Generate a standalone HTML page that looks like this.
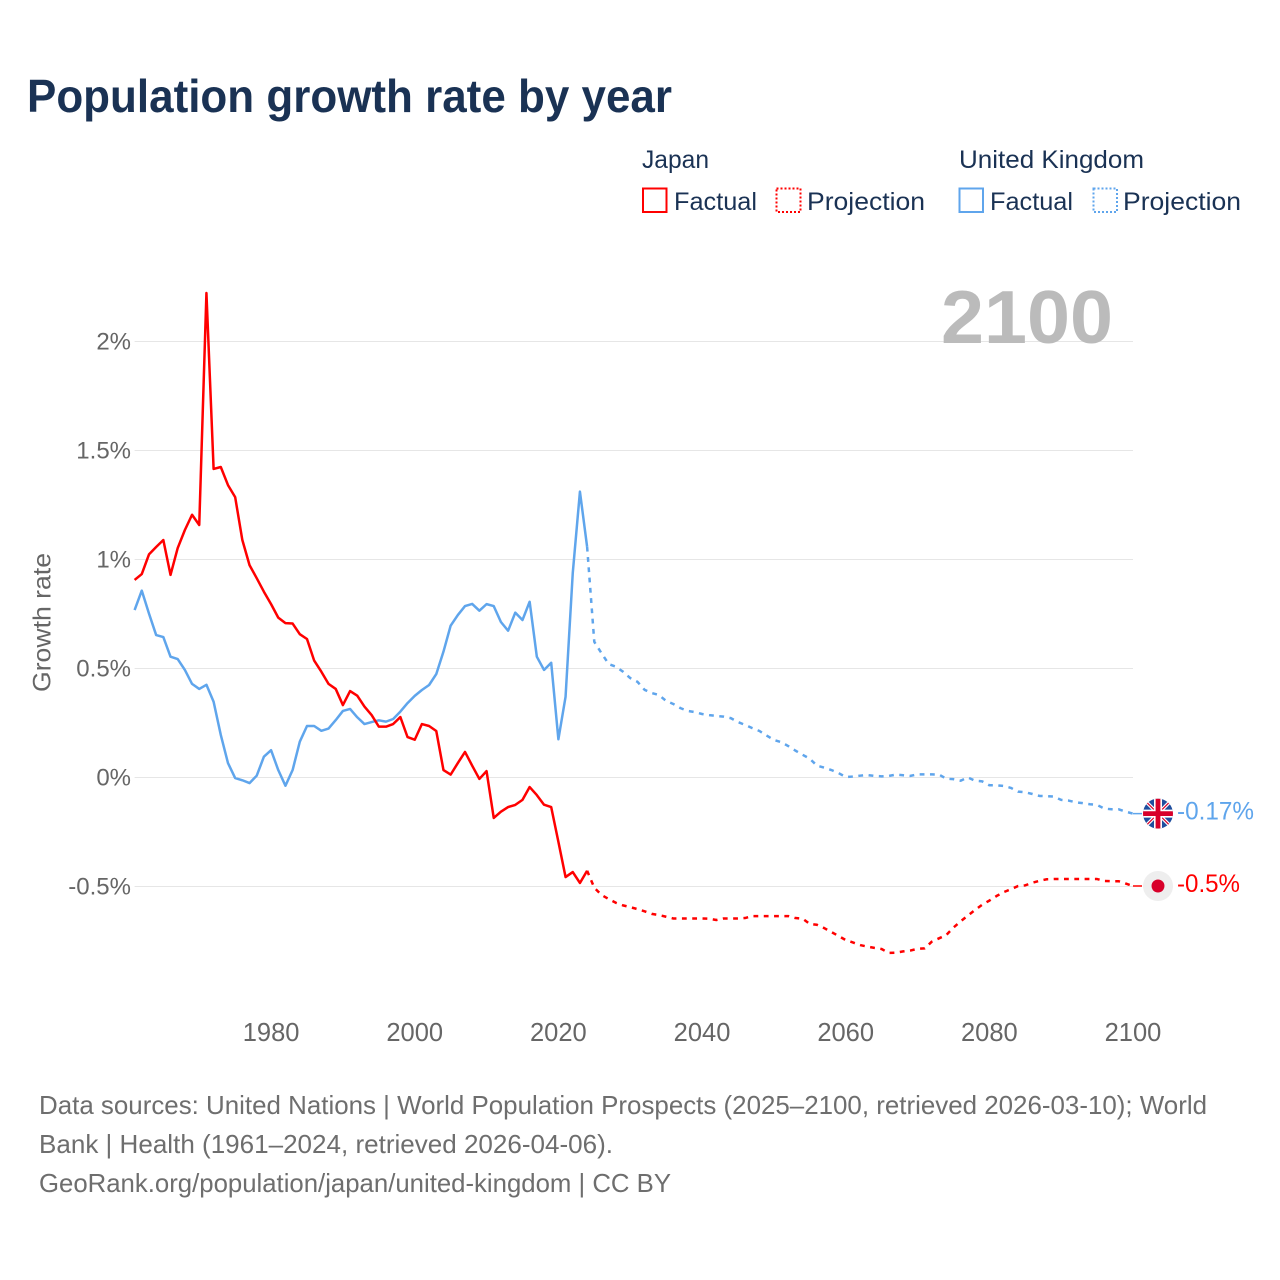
<!DOCTYPE html>
<html lang="en">
<head>
<meta charset="utf-8">
<title>Population growth rate by year</title>
<style>
html,body{margin:0;padding:0;background:#fff}
svg{display:block}
text{font-family:"Liberation Sans",sans-serif}
</style>
</head>
<body>
<svg id="chart" xmlns="http://www.w3.org/2000/svg" width="1280" height="1280" viewBox="0 0 1280 1280">
  <defs>
    <clipPath id="flag-clip"><circle cx="0" cy="0" r="15"/></clipPath>
  </defs>
  <rect width="1280" height="1280" fill="#fff"/>
  <text x="27" y="112" font-size="46" font-weight="700" fill="#1a3254" textLength="645" lengthAdjust="spacingAndGlyphs">Population growth rate by year</text>

  <g fill="#1a3254" font-size="25">
    <text x="642" y="168" textLength="67" lengthAdjust="spacingAndGlyphs">Japan</text>
    <text x="959" y="168" textLength="185" lengthAdjust="spacingAndGlyphs">United Kingdom</text>
    <g>
      <rect x="643" y="188.5" width="23.5" height="23.5" fill="none" stroke="#ff0000" stroke-width="2"/>
      <text x="674" y="210" textLength="83" lengthAdjust="spacingAndGlyphs">Factual</text>
    </g>
    <g>
      <rect x="776.5" y="188.5" width="24" height="23.5" fill="none" stroke="#ff0000" stroke-width="2" stroke-dasharray="2 2"/>
      <text x="807" y="210" textLength="118" lengthAdjust="spacingAndGlyphs">Projection</text>
    </g>
    <g>
      <rect x="959.5" y="188.5" width="23.5" height="23.5" fill="none" stroke="#5fa5ec" stroke-width="2"/>
      <text x="990" y="210" textLength="83" lengthAdjust="spacingAndGlyphs">Factual</text>
    </g>
    <g>
      <rect x="1093.5" y="188.5" width="23.5" height="23.5" fill="none" stroke="#5fa5ec" stroke-width="2" stroke-dasharray="2 2"/>
      <text x="1123" y="210" textLength="118" lengthAdjust="spacingAndGlyphs">Projection</text>
    </g>
  </g>

  <g id="grid"></g>
  <text x="941" y="343" font-size="75" font-weight="700" fill="#bbbbbb" textLength="172" lengthAdjust="spacingAndGlyphs">2100</text>
  <g id="y-ticks"></g>
  <g id="x-ticks"></g>
  <text transform="translate(50.5,692) rotate(-90)" x="0" y="0" font-size="25" fill="#666666" textLength="139" lengthAdjust="spacingAndGlyphs">Growth rate</text>

  <g id="series"></g>

  <g id="uk-marker">
    <g clip-path="url(#flag-clip)">
      <rect x="-15" y="-15" width="30" height="30" fill="#1f4e9e"/>
      <path d="M-15 -15L15 15M15 -15L-15 15" stroke="#fff" stroke-width="3.5"/>
      <path d="M-15 -15L15 15M15 -15L-15 15" stroke="#d8002a" stroke-width="1.2"/>
      <path d="M0 -15V15M-15 0H15" stroke="#fff" stroke-width="8"/>
      <path d="M0 -15V15M-15 0H15" stroke="#d8002a" stroke-width="4.8"/>
    </g>
  </g>
  <g id="jp-marker">
    <circle cx="0" cy="0" r="15" fill="#eeeeee"/>
    <circle cx="0" cy="0" r="6.5" fill="#d8002a"/>
  </g>
  <text id="uk-end-label" x="1177" font-size="25" fill="#5fa5ec" textLength="77" lengthAdjust="spacingAndGlyphs"></text>
  <text id="jp-end-label" x="1177" font-size="25" fill="#ff0000" textLength="63" lengthAdjust="spacingAndGlyphs"></text>

  <g font-size="26" fill="#6e6e6e">
    <text x="39" y="1114" textLength="1168" lengthAdjust="spacingAndGlyphs">Data sources: United Nations | World Population Prospects (2025–2100, retrieved 2026-03-10); World</text>
    <text x="39" y="1153" textLength="574" lengthAdjust="spacingAndGlyphs">Bank | Health (1961–2024, retrieved 2026-04-06).</text>
    <text x="39" y="1192" textLength="632" lengthAdjust="spacingAndGlyphs">GeoRank.org/population/japan/united-kingdom | CC BY</text>
  </g>
</svg>
<script>
const factualYears = [1961,1962,1963,1964,1965,1966,1967,1968,1969,1970,1971,1972,1973,1974,1975,1976,1977,1978,1979,1980,1981,1982,1983,1984,1985,1986,1987,1988,1989,1990,1991,1992,1993,1994,1995,1996,1997,1998,1999,2000,2001,2002,2003,2004,2005,2006,2007,2008,2009,2010,2011,2012,2013,2014,2015,2016,2017,2018,2019,2020,2021,2022,2023,2024];
const projectionYears = [2024,2025,2026,2027,2028,2029,2030,2031,2032,2033,2034,2035,2036,2037,2038,2039,2040,2041,2042,2043,2044,2045,2046,2047,2048,2049,2050,2051,2052,2053,2054,2055,2056,2057,2058,2059,2060,2061,2062,2063,2064,2065,2066,2067,2068,2069,2070,2071,2072,2073,2074,2075,2076,2077,2078,2079,2080,2081,2082,2083,2084,2085,2086,2087,2088,2089,2090,2091,2092,2093,2094,2095,2096,2097,2098,2099,2100];
const japanFactual = [0.904,0.931,1.021,1.055,1.087,0.927,1.05,1.133,1.203,1.156,2.22,1.413,1.422,1.339,1.284,1.087,0.972,0.912,0.85,0.793,0.731,0.706,0.704,0.655,0.633,0.534,0.483,0.427,0.404,0.33,0.394,0.373,0.323,0.284,0.231,0.231,0.243,0.275,0.183,0.171,0.243,0.234,0.211,0.032,0.011,0.064,0.115,0.052,-0.009,0.027,-0.188,-0.159,-0.138,-0.128,-0.105,-0.046,-0.083,-0.127,-0.138,-0.297,-0.459,-0.436,-0.486,-0.43];
const japanProjection = [-0.43,-0.508,-0.541,-0.56,-0.577,-0.589,-0.597,-0.606,-0.616,-0.628,-0.633,-0.641,-0.649,-0.649,-0.649,-0.649,-0.649,-0.65,-0.656,-0.649,-0.649,-0.649,-0.647,-0.638,-0.638,-0.638,-0.638,-0.638,-0.638,-0.647,-0.65,-0.674,-0.678,-0.693,-0.711,-0.729,-0.748,-0.759,-0.771,-0.778,-0.784,-0.789,-0.807,-0.806,-0.8,-0.796,-0.788,-0.786,-0.755,-0.74,-0.725,-0.691,-0.662,-0.636,-0.61,-0.586,-0.567,-0.546,-0.528,-0.515,-0.5,-0.497,-0.485,-0.476,-0.469,-0.468,-0.468,-0.468,-0.468,-0.468,-0.468,-0.468,-0.477,-0.478,-0.478,-0.489,-0.5];
const ukFactual = [0.766,0.855,0.75,0.651,0.642,0.552,0.541,0.491,0.427,0.404,0.423,0.345,0.193,0.064,-0.005,-0.015,-0.028,0.006,0.093,0.123,0.032,-0.04,0.032,0.162,0.234,0.234,0.212,0.222,0.261,0.303,0.312,0.274,0.243,0.252,0.26,0.254,0.266,0.3,0.339,0.372,0.399,0.422,0.472,0.575,0.694,0.743,0.784,0.794,0.763,0.793,0.784,0.711,0.671,0.754,0.72,0.804,0.552,0.491,0.524,0.173,0.368,0.935,1.309,1.056];
const ukProjection = [1.056,0.62,0.568,0.518,0.506,0.483,0.454,0.437,0.4,0.385,0.376,0.349,0.335,0.316,0.303,0.298,0.289,0.284,0.28,0.277,0.27,0.252,0.239,0.224,0.211,0.19,0.17,0.16,0.142,0.121,0.102,0.084,0.052,0.043,0.032,0.018,0,0.002,0.006,0.009,0.005,0.003,0.005,0.011,0.008,0.005,0.012,0.012,0.012,0.011,-0.008,-0.01,-0.017,-0.002,-0.017,-0.02,-0.038,-0.038,-0.041,-0.05,-0.067,-0.07,-0.078,-0.087,-0.088,-0.09,-0.105,-0.108,-0.116,-0.12,-0.125,-0.128,-0.145,-0.148,-0.148,-0.159,-0.168];
const yTickValues = [-0.5,0,0.5,1,1.5,2];
const yTickLabels = ["-0.5%","0%","0.5%","1%","1.5%","2%"];
const xTickValues = [1980,2000,2020,2040,2060,2080,2100];
const xTickLabels = ["1980","2000","2020","2040","2060","2080","2100"];

const NS = "http://www.w3.org/2000/svg";
function xScale(year) { return 134.6 + (year - 1961) * (1133 - 134.6) / 139; }
function yScale(value) { return 777 - value * 218; }
function linePath(years, values) {
  return values.map(function (v, i) {
    return (i ? "L" : "M") + xScale(years[i]).toFixed(2) + " " + yScale(v).toFixed(2);
  }).join("");
}

const gridGroup = document.getElementById("grid");
const yTickGroup = document.getElementById("y-ticks");
const xTickGroup = document.getElementById("x-ticks");
const seriesGroup = document.getElementById("series");

yTickValues.forEach(function (v, i) {
  const gl = document.createElementNS(NS, "line");
  
  
  gl.setAttribute("x1", xScale(1961));
  gl.setAttribute("x2", xScale(2100));
  gl.setAttribute("y1", yScale(v) + 0.5);
  gl.setAttribute("y2", yScale(v) + 0.5);
  gl.setAttribute("stroke", "#e6e6e6");
  gl.setAttribute("stroke-width", "1");
  gridGroup.appendChild(gl);

  const t = document.createElementNS(NS, "text");
  
  
  t.setAttribute("x", 131);
  t.setAttribute("y", yScale(v) + 8.5);
  t.setAttribute("text-anchor", "end");
  t.setAttribute("font-size", "24");
  t.setAttribute("fill", "#666666");
  t.textContent = yTickLabels[i];
  yTickGroup.appendChild(t);
});

xTickValues.forEach(function (y, i) {
  const t = document.createElementNS(NS, "text");
  
  
  t.setAttribute("x", xScale(y));
  t.setAttribute("y", 1041);
  t.setAttribute("text-anchor", "middle");
  t.setAttribute("font-size", "25.5");
  t.setAttribute("fill", "#666666");
  t.textContent = xTickLabels[i];
  xTickGroup.appendChild(t);
});

function drawSeries(name, years, values, color, dashed) {
  const p = document.createElementNS(NS, "path");
  
  
  p.setAttribute("d", linePath(years, values));
  p.setAttribute("fill", "none");
  p.setAttribute("stroke", color);
  p.setAttribute("stroke-width", "2.5");
  p.setAttribute("stroke-linejoin", "round");
  if (dashed) p.setAttribute("stroke-dasharray", "4.8 5.5");
  seriesGroup.appendChild(p);
}
drawSeries("uk-factual-line", factualYears, ukFactual, "#5fa5ec", false);
drawSeries("uk-projection-line", projectionYears, ukProjection, "#5fa5ec", true);
drawSeries("japan-factual-line", factualYears, japanFactual, "#ff0000", false);
drawSeries("japan-projection-line", projectionYears, japanProjection, "#ff0000", true);

function drawEnd(leaderName, values, color, markerId, labelId, labelOffset) {
  const last = values[values.length - 1];
  const yEnd = yScale(last);
  const xEnd = xScale(2100);
  const l = document.createElementNS(NS, "line");
  
  
  l.setAttribute("x1", xEnd);
  l.setAttribute("x2", xEnd + 9);
  l.setAttribute("y1", yEnd);
  l.setAttribute("y2", yEnd);
  l.setAttribute("stroke", color);
  l.setAttribute("stroke-width", "1.5");
  seriesGroup.appendChild(l);
  document.getElementById(markerId).setAttribute("transform", "translate(" + (xEnd + 25) + "," + yEnd + ")");
  const label = document.getElementById(labelId);
  label.setAttribute("y", yEnd + labelOffset);
  label.textContent = Number(last.toFixed(2)) + "%";
}
drawEnd("uk-leader-line", ukProjection, "#5fa5ec", "uk-marker", "uk-end-label", 6);
drawEnd("japan-leader-line", japanProjection, "#ff0000", "jp-marker", "jp-end-label", 6);
</script>
</body>
</html>
